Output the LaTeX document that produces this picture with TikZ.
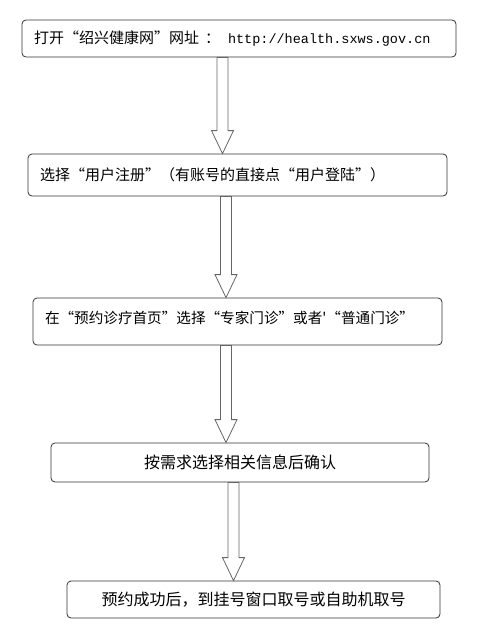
\documentclass[tikz,border=0pt]{standalone}
\usepackage{fontspec}
\newfontfamily\cjk{Noto Sans CJK SC}
\newfontfamily\urlfont[Scale=0.9]{Liberation Mono}
\usetikzlibrary{calc}

% hollow block arrow: #1 = x of the shaft (pt), #2 = upper node, #3 = lower node
\newcommand{\blockarrow}[3]{%
  \draw[hollow] let \p1=(#2.south), \p2=(#3.north) in
    (#1pt-5.5pt,\y1) -- (#1pt-5.5pt,\y2+23pt) -- (#1pt-11pt,\y2+23pt)
    -- (#1pt,\y2) -- (#1pt+11pt,\y2+23pt) -- (#1pt+5.5pt,\y2+23pt)
    -- (#1pt+5.5pt,\y1) -- cycle;}

\begin{document}
\begin{tikzpicture}[
    x=1pt,y=-1pt,
    box/.style={draw=black!80,line width=0.8pt,rounded corners=4pt,
                inner xsep=12pt,inner ysep=0pt,align=left,
                font=\cjk\fontsize{15pt}{18pt}\selectfont},
    hollow/.style={draw=black!60,line width=0.8pt,fill=white},
  ]
    \useasboundingbox (0,0) rectangle (485,642);
    \node[box,minimum width=434pt,minimum height=37pt,text width=410pt] (site) at (239,38.5)
      {打开“绍兴健康网”网址\hspace{6pt}：\hspace{8pt}{\urlfont http://health.sxws.gov.cn}};
    \node[box,minimum width=419pt,minimum height=42pt,text width=395pt] (register) at (237.5,175)
      {选择“用户注册”（有账号的直接点“用户登陆”）};
    \node[box,minimum width=409pt,minimum height=47pt,text width=385pt,text depth=9pt,
          font=\cjk\fontsize{14.6pt}{18pt}\selectfont] (clinic) at (237.5,321.5)
      {在“预约诊疗首页”选择“专家门诊”或者'“普通门诊”};
    \node[box,align=center,minimum width=378pt,minimum height=39pt,
          font=\cjk\fontsize{16pt}{19pt}\selectfont] (confirm) at (240,462.5)
      {按需求选择相关信息后确认};
    \node[box,align=center,minimum width=373pt,minimum height=37pt,
          font=\cjk\fontsize{16pt}{19pt}\selectfont] (ticket) at (253.5,599.5)
      {预约成功后，到挂号窗口取号或自助机取号};
    \blockarrow{222.5}{site}{register}
    \blockarrow{226}{register}{clinic}
    \blockarrow{226}{clinic}{confirm}
    \blockarrow{233.5}{confirm}{ticket}
  \end{tikzpicture}
\end{document}
